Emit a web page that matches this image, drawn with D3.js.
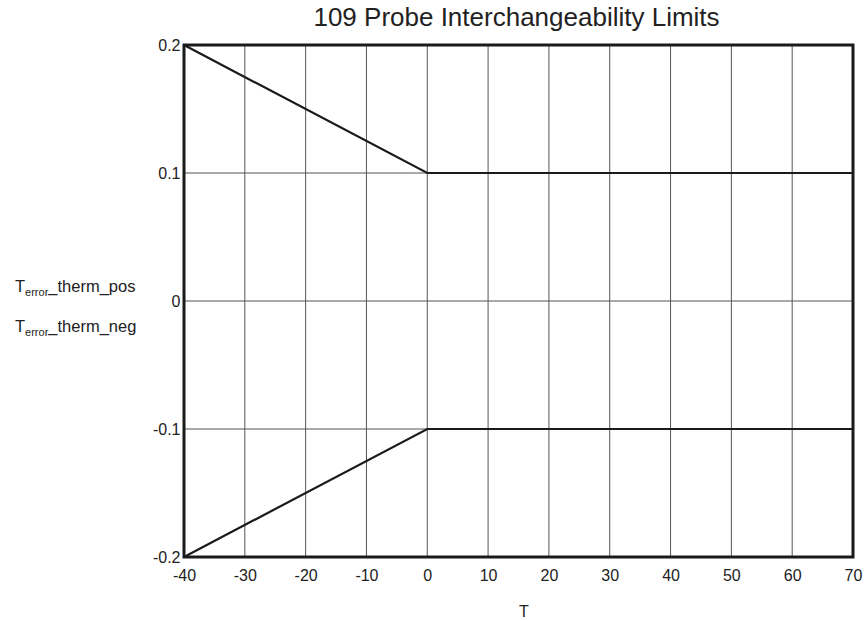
<!DOCTYPE html>
<html>
<head>
<meta charset="utf-8">
<script src="https://d3js.org/d3.v7.min.js"></script>
<style>
  body { margin: 0; background: #fff; }
  text { font-family: "Liberation Sans", Arial, sans-serif; fill: #222; }
</style>
</head>
<body>
<div id="chart"></div>
<script>
// data
var tempT = [-40, 0, 70];
var errPos = [0.2, 0.1, 0.1];
var errNeg = [-0.2, -0.1, -0.1];
var xTicks = [-40, -30, -20, -10, 0, 10, 20, 30, 40, 50, 60, 70];
var xTickLabels = ["-40", "-30", "-20", "-10", "0", "10", "20", "30", "40", "50", "60", "70"];
var yTicks = [-0.2, -0.1, 0, 0.1, 0.2];
var yTickLabels = ["-0.2", "-0.1", "0", "0.1", "0.2"];

var W = 867, H = 621;
var margin = {top: 45, right: 14, bottom: 64, left: 184},
    width = W - margin.left - margin.right,
    height = H - margin.top - margin.bottom;

var svg = d3.select("#chart").append("svg")
    .attr("width", W)
    .attr("height", H);

var g = svg.append("g")
    .attr("transform", "translate(" + margin.left + "," + margin.top + ")");

var x = d3.scaleLinear().domain([-40, 70]).range([0, width]);
var y = d3.scaleLinear().domain([-0.2, 0.2]).range([height, 0]);

// grid
g.append("g").selectAll("line").data(xTicks).join("line")
    .attr("x1", d => x(d)).attr("x2", d => x(d))
    .attr("y1", 0).attr("y2", height)
    .attr("stroke", "#555").attr("stroke-width", 1);
g.append("g").selectAll("line").data(yTicks).join("line")
    .attr("x1", 0).attr("x2", width)
    .attr("y1", d => y(d)).attr("y2", d => y(d))
    .attr("stroke", "#555").attr("stroke-width", 1);

// series
var pos = tempT.map((t, i) => [t, errPos[i]]);
var neg = tempT.map((t, i) => [t, errNeg[i]]);
var line = d3.line().x(d => x(d[0])).y(d => y(d[1]));
[pos, neg].forEach(function(s) {
  g.append("path")
      .datum(s)
      .attr("d", line)
      .attr("fill", "none")
      .attr("stroke", "#1a1a1a")
      .attr("stroke-width", 2.2);
});

// frame
g.append("rect")
    .attr("x", 0).attr("y", 0)
    .attr("width", width).attr("height", height)
    .attr("fill", "none")
    .attr("stroke", "#1a1a1a")
    .attr("stroke-width", 3);

// tick labels
var xAxis = d3.axisBottom(x).tickValues(xTicks)
    .tickFormat((d, i) => xTickLabels[i]).tickSize(0).tickPadding(12.5);
var xa = g.append("g").attr("transform", "translate(0," + height + ")").call(xAxis);
xa.select(".domain").remove();
xa.selectAll("text").style("font-size", "16px").attr("fill", "#222");

var yAxis = d3.axisLeft(y).tickValues(yTicks)
    .tickFormat((d, i) => yTickLabels[i]).tickSize(0).tickPadding(3.5);
var ya = g.append("g").call(yAxis);
ya.select(".domain").remove();
ya.selectAll("text").style("font-size", "16px").attr("fill", "#222");

// title
svg.append("text")
    .attr("x", 516.5)
    .attr("y", 26)
    .attr("text-anchor", "middle")
    .style("font-size", "26px")
    .text("109 Probe Interchangeability Limits");

// x label
svg.append("text")
    .attr("x", 524)
    .attr("y", 617)
    .attr("text-anchor", "middle")
    .style("font-size", "16px")
    .text("T");

// y labels (left side)
[["therm_pos", 292], ["therm_neg", 332]].forEach(function(l) {
  var t = svg.append("text")
      .attr("x", 15)
      .attr("y", l[1])
      .style("font-size", "16.5px");
  t.append("tspan").text("T");
  t.append("tspan").attr("dy", 4).style("font-size", "11px").text("error");
  t.append("tspan").attr("dy", -4).text("_" + l[0]);
});
</script>
</body>
</html>
